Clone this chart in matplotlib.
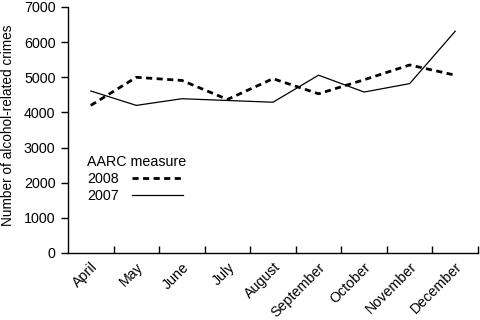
import matplotlib
matplotlib.use("Agg")
import matplotlib.pyplot as plt
import numpy as np

months = ["April", "May", "June", "July", "August", "September", "October", "November", "December"]
values_2008 = [4200, 5000, 4910, 4370, 4960, 4530, 4930, 5350, 5060]
values_2007 = [4610, 4200, 4390, 4340, 4290, 5060, 4580, 4820, 6310]
yticks = [0, 1000, 2000, 3000, 4000, 5000, 6000, 7000]

plt.rcParams['font.family'] = ['Liberation Sans', 'DejaVu Sans']
plt.rcParams['font.size'] = 10.3

fig = plt.figure(figsize=(4.8, 3.2), dpi=100)
ax = fig.add_axes([68/480, 1-253/320, 410/480, 246/320])

x = np.arange(len(months)) + 0.5
l08, = ax.plot(x, values_2008, color='black', lw=2.0, ls=(0, (2.2, 1.6)), label='2008')
l07, = ax.plot(x, values_2007, color='black', lw=0.9, ls='-', label='2007')

ax.set_xlim(0, len(months))
ax.set_ylim(0, 7000)
ax.set_yticks(yticks)
ax.set_xticks(np.arange(1, len(months) + 1))
ax.set_xticklabels([])
ax.set_xticks(x, minor=True)
ax.set_xticklabels(months, minor=True, rotation=45, ha='right', va='top', rotation_mode='anchor')
ax.tick_params(axis='x', which='major', direction='in', length=5, width=1)
ax.tick_params(axis='x', which='minor', length=0, pad=5)
ax.tick_params(axis='y', direction='out', length=5, width=1, pad=4)
for s in ['top', 'right']:
    ax.spines[s].set_visible(False)
ax.spines['left'].set_linewidth(1)
ax.spines['bottom'].set_linewidth(1)
ax.set_ylabel('Number of alcohol-related crimes', fontsize=9.8)
ax.yaxis.set_label_coords((15 - 68) / 410, 0.518)

leg = ax.legend(handles=[l08, l07], title='AARC measure', loc='upper left',
                bbox_to_anchor=(0.033, 0.42), frameon=False, markerfirst=False,
                handlelength=3.6, handletextpad=0.9, labelspacing=0.2,
                borderaxespad=0, fontsize=10.3, title_fontsize=10.3)
leg._legend_box.align = 'left'

fig.savefig('out.png', dpi=100)
